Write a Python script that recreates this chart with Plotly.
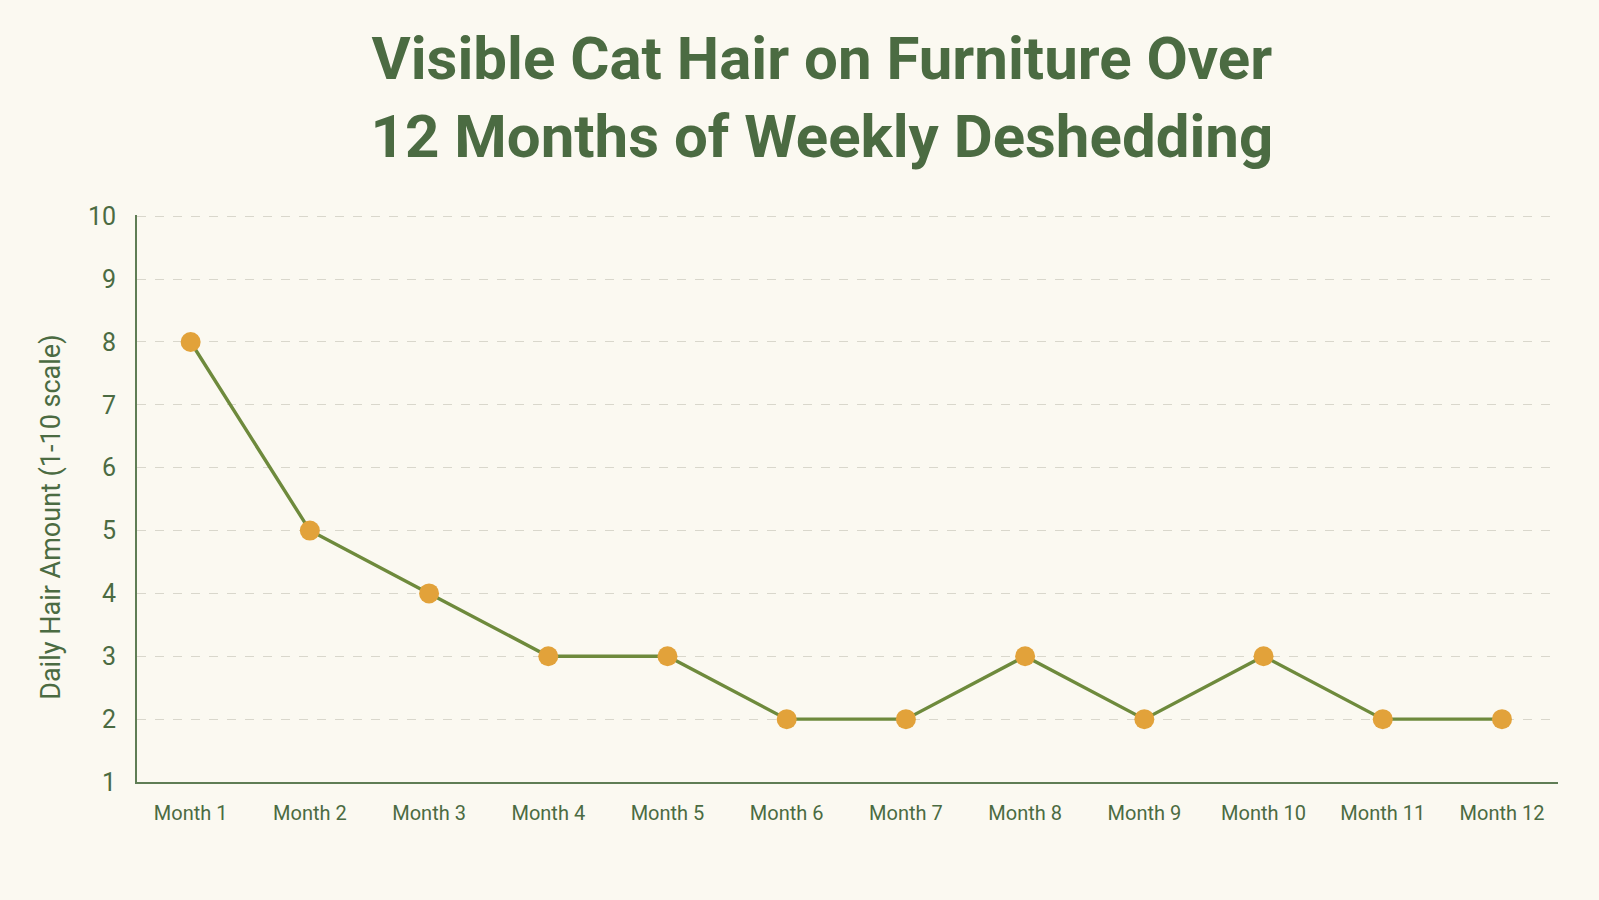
import plotly.graph_objects as go

months = ["Month 1", "Month 2", "Month 3", "Month 4", "Month 5", "Month 6",
          "Month 7", "Month 8", "Month 9", "Month 10", "Month 11", "Month 12"]
hair_amount = [8, 5, 4, 3, 3, 2, 2, 3, 2, 3, 2, 2]
y_ticks = [1, 2, 3, 4, 5, 6, 7, 8, 9, 10]

title_color = "#4b6b42"
axis_color = "#5f7d55"
line_color = "#6e8a3c"
marker_color = "#e2a23a"
bg = "#fbf9f1"

fig = go.Figure()
fig.add_trace(go.Scatter(
    x=list(range(len(months))), y=hair_amount, mode="lines+markers",
    line=dict(color=line_color, width=3.4),
    marker=dict(color=marker_color, size=20, line=dict(width=0)),
    hoverinfo="skip", showlegend=False,
))

fig.update_layout(
    width=1599, height=900,
    paper_bgcolor=bg, plot_bgcolor=bg,
    margin=dict(l=137, r=41, t=215, b=118),
    title=dict(
        text="Visible Cat Hair on Furniture Over<br>12 Months of Weekly Deshedding",
        x=0.514, xanchor="center", y=1 - 79 / 900, yanchor="middle",
        font=dict(family="Roboto", size=60, color=title_color, weight="bold"),
    ),
    font=dict(family="Roboto", color=title_color),
    annotations=[dict(
        text="Daily Hair Amount (1-10 scale)", textangle=-90,
        xref="paper", yref="paper", x=-0.0605, y=0.466,
        xanchor="center", yanchor="middle", showarrow=False,
        font=dict(family="Roboto", size=27, color=title_color),
    )],
)
fig.update_xaxes(
    range=[-0.45, 11.47], tickmode="array",
    tickvals=list(range(len(months))), ticktext=months,
    showgrid=False, zeroline=False,
    showline=True, linecolor=axis_color, linewidth=2,
    ticks="", ticklabelstandoff=12,
    tickfont=dict(size=20, color=title_color),
)
fig.update_yaxes(
    range=[1, 10.02], tickmode="array", tickvals=y_ticks,
    showgrid=True, gridcolor="#d9d7cc", griddash="dash", gridwidth=1.4,
    zeroline=False, showline=True, linecolor=axis_color, linewidth=2,
    ticks="", ticklabelstandoff=14,
    tickfont=dict(size=25, color=title_color),
)

fig.write_html("out.html")
